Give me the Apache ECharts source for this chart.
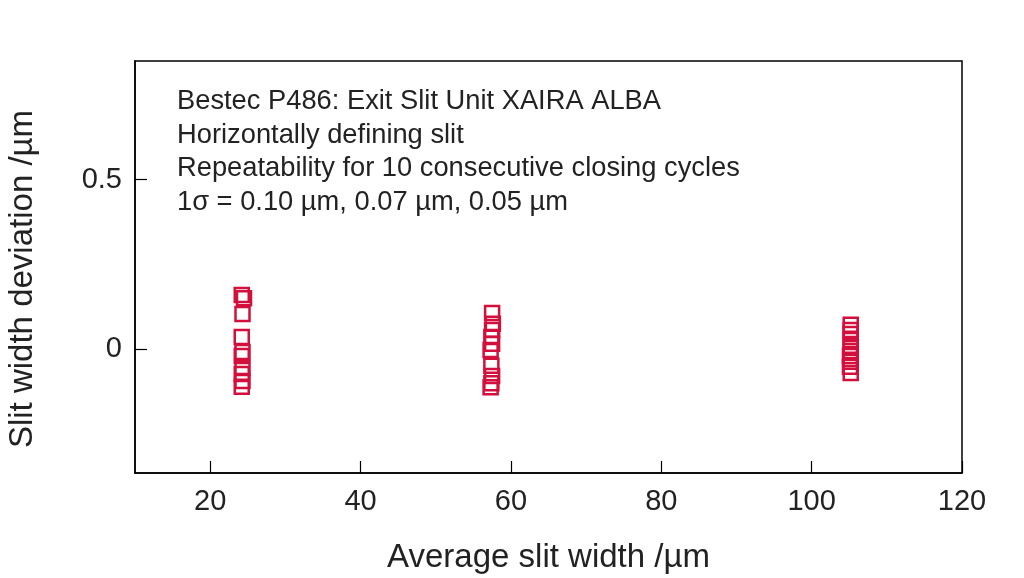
<!DOCTYPE html>
<html>
<head>
<meta charset="utf-8">
<script src="https://cdn.jsdelivr.net/npm/echarts@6/dist/echarts.min.js"></script>
<style>html,body{margin:0;padding:0;background:#fff}#c{width:1024px;height:578px}</style>
</head>
<body>
<div id="c"></div>
<script>
// Data
const xTicks = [20, 40, 60, 80, 100, 120];
const yTicks = [0, 0.5];
const set1X = [24.2, 24.5, 24.3, 24.2, 24.3, 24.2, 24.3, 24.2, 24.3, 24.2];
const set1Y = [0.160, 0.150, 0.104, 0.036, -0.008, -0.020, -0.055, -0.073, -0.094, -0.111];
const set2X = [57.5, 57.6, 57.5, 57.4, 57.5, 57.3, 57.4, 57.5, 57.4, 57.3];
const set2Y = [0.107, 0.075, 0.057, 0.036, 0.016, -0.002, -0.049, -0.079, -0.100, -0.112];
const set3X = [105.2, 105.2, 105.2, 105.2, 105.2, 105.2, 105.1, 105.2, 105.1, 105.2];
const set3Y = [0.072, 0.057, 0.045, 0.027, 0.010, -0.005, -0.020, -0.037, -0.052, -0.070];
const noteLines = [
  'Bestec P486: Exit Slit Unit XAIRA ALBA',
  'Horizontally defining slit',
  'Repeatability for 10 consecutive closing cycles',
  '1\u03c3 = 0.10 \u00b5m, 0.07 \u00b5m, 0.05 \u00b5m'
];
const xName = 'Average slit width /\u00b5m';
const yName = 'Slit width deviation /\u00b5m';

const red = '#d30f3c';
const font = 'Liberation Sans, Helvetica, Arial, sans-serif';
const pts = (xs, ys) => xs.map((x, i) => [x, ys[i]]);

const chart = echarts.init(document.getElementById('c'), null, {renderer: 'canvas'});
const axisCommon = {
  axisLine: {show: true, onZero: false, lineStyle: {color: '#000', width: 1.5}},
  axisTick: {show: true, inside: true, length: 12, lineStyle: {color: '#000', width: 1.2}},
  splitLine: {show: false},
  nameTextStyle: {fontFamily: font, fontSize: 33, color: '#222'}
};
const series = [set1X, set2X, set3X].map((xs, k) => ({
  type: 'scatter',
  data: pts(xs, [set1Y, set2Y, set3Y][k]),
  symbol: 'rect',
  symbolSize: 14,
  itemStyle: {color: 'rgba(255,255,255,0)', borderColor: red, borderWidth: 2.5, opacity: 1},
  emphasis: {disabled: true},
  animation: false
}));
chart.setOption({
  animation: false,
  grid: {left: 135, right: 62, top: 61, bottom: 105, show: true, borderColor: '#000', borderWidth: 1.5,
    containLabel: false, outerBoundsMode: 'none'},
  xAxis: Object.assign({}, axisCommon, {
    type: 'value', min: 10, max: 120,
    name: xName, nameLocation: 'middle', nameGap: 68,
    axisTick: Object.assign({}, axisCommon.axisTick, {customValues: xTicks}),
    axisLabel: {customValues: xTicks, margin: 14, fontFamily: font, fontSize: 29, color: '#222', showMaxLabel: true}
  }),
  yAxis: Object.assign({}, axisCommon, {
    type: 'value', min: -0.365, max: 0.85,
    name: yName, nameLocation: 'middle', nameGap: 96, nameRotate: 90,
    nameTextStyle: Object.assign({}, axisCommon.nameTextStyle, {padding: [0, 24, 0, 0]}),
    axisTick: Object.assign({}, axisCommon.axisTick, {customValues: yTicks}),
    axisLabel: {customValues: yTicks, margin: 13, fontFamily: font, fontSize: 29, color: '#222',
      formatter: v => String(v)}
  }),
  graphic: noteLines.map((t, i) => ({
    type: 'text', left: 177, top: 88 + i * 33.7,
    style: {text: t, fontFamily: font, fontSize: 27.3, fill: '#222'}
  })),
  series: series
});
</script>
</body>
</html>
